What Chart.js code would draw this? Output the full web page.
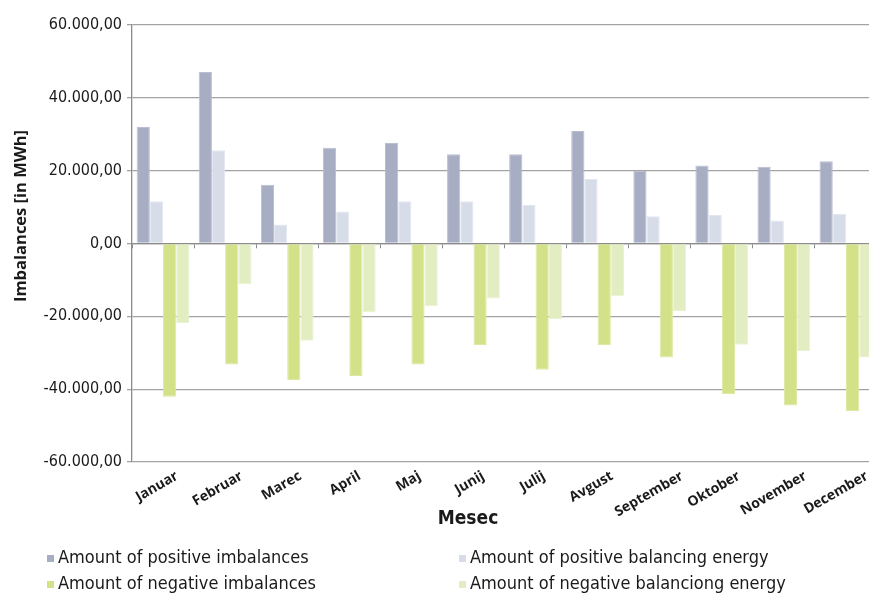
<!DOCTYPE html>
<html>
<head>
<meta charset="utf-8">
<script src="https://cdn.jsdelivr.net/npm/chart.js@4/dist/chart.umd.min.js"></script>
<style>
  html, body { margin: 0; padding: 0; background: #fff; overflow: hidden; }
  #wrap { position: relative; width: 880px; height: 593px; }
  #legend { position: absolute; left: 47px; top: 544px; width: 800px;
            font-family: "Liberation Sans Narrow", "DejaVu Sans Condensed", sans-serif;
            font-size: 18px; color: #1a1a1a; }
  .item { position: absolute; white-space: nowrap; line-height: 26px; }
  .sw { display: inline-block; width: 7px; height: 7px; margin-right: 4px; vertical-align: 1px; }
</style>
</head>
<body>
<div id="wrap">
  <canvas id="c"></canvas>
  <div id="legend"></div>
</div>
<script>
const months = ['Januar', 'Februar', 'Marec', 'April', 'Maj', 'Junij', 'Julij', 'Avgust',
                'September', 'Oktober', 'November', 'December'];

// MWh per month
const positiveImbalances = [32000, 47100, 16100, 26300, 27600, 24500, 24500, 30900, 20000, 21400, 21100, 22600];
const positiveBalancing  = [11600, 25600, 5200, 8800, 11600, 11600, 10600, 17700, 7500, 7800, 6300, 8100];
const negativeImbalances = [-42100, -33200, -37500, -36400, -33200, -27900, -34700, -27900, -31300, -41400, -44500, -46000];
const negativeBalancing  = [-21800, -11200, -26700, -18900, -17200, -15100, -20700, -14500, -18600, -27800, -29500, -31300];

const seriesNames = ['Amount of positive imbalances', 'Amount of positive balancing energy',
                     'Amount of negative imbalances', 'Amount of negative balanciong energy'];
const seriesColors = ['#a7adc3', '#d7dce9', '#d3e289', '#e2edc1'];
const seriesEdges  = ['#b9bfd2', '#e3e7f0', '#dde9a3', '#ebf2d2'];

const yTicks = [-60000, -40000, -20000, 0, 20000, 40000, 60000];
const yTitle = 'Imbalances [in MWh]';
const xTitle = 'Mesec';

function fmt(v) {
  const neg = v < 0;
  const s = Math.abs(Math.round(v)).toString().replace(/\B(?=(\d{3})+(?!\d))/g, '.');
  return (neg ? '-' : '') + s + ',00';
}

const values = [positiveImbalances, positiveBalancing, negativeImbalances, negativeBalancing];
const datasets = values.map((d, i) => ({
  label: seriesNames[i],
  data: d,
  backgroundColor: seriesColors[i],
  borderColor: seriesEdges[i],
  borderWidth: 1,
  barPercentage: 1.0,
  categoryPercentage: 0.85,
  xAxisID: 'x'
}));

const narrow = '"Liberation Sans Narrow", "DejaVu Sans Condensed", sans-serif';
const monthFont = 'bold 14px "Open Sans", sans-serif';

// axis titles and slanted month labels (each label is anchored a little to the
// right of its category centre, further for longer names)
const axisText = {
  id: 'axisText',
  afterDraw(chart) {
    const { ctx, chartArea } = chart;
    const xs = chart.scales.x;
    ctx.save();
    ctx.fillStyle = '#1a1a1a';
    ctx.font = monthFont;
    ctx.textAlign = 'right';
    ctx.textBaseline = 'middle';
    months.forEach((m, i) => {
      const w = ctx.measureText(m).width;
      const x = xs.getPixelForTick(i) + 1 + 0.28 * w;
      ctx.save();
      ctx.translate(x, chartArea.bottom + 13);
      ctx.rotate(-Math.PI / 6);
      ctx.fillText(m, 0, 0);
      ctx.restore();
    });
    ctx.restore();

    ctx.save();
    ctx.fillStyle = '#1a1a1a';
    ctx.textAlign = 'center';
    ctx.textBaseline = 'middle';
    ctx.font = 'bold 16.5px "Open Sans", sans-serif';
    ctx.translate(chartArea.left - 111, chartArea.top + 191);
    ctx.rotate(-Math.PI / 2);
    ctx.fillText(yTitle, 0, 0);
    ctx.restore();

    ctx.save();
    ctx.fillStyle = '#1a1a1a';
    ctx.textAlign = 'center';
    ctx.textBaseline = 'middle';
    ctx.font = 'bold 19px ' + narrow;
    ctx.fillText(xTitle, chartArea.left + 336, chartArea.bottom + 57);
    ctx.restore();
  }
};

const chart = new Chart(document.getElementById('c'), {
  type: 'bar',
  data: { labels: months, datasets },
  options: {
    responsive: true,
    maintainAspectRatio: false,
    animation: false,
    layout: { padding: { top: 25, right: 3, bottom: 61, left: 0 } },
    plugins: { legend: { display: false }, tooltip: { enabled: false } },
    scales: {
      x: {
        type: 'category',
        position: 'bottom',
        grid: { display: false },
        border: { display: false },
        ticks: { display: false, autoSkip: false },
        afterFit(scale) { scale.height = 70; }
      },
      x2: {
        type: 'category',
        position: { y: 0 },
        offset: true,
        grid: { drawOnChartArea: false, drawTicks: true, tickLength: 4, offset: true, color: '#8c8c8c' },
        border: { display: true, color: '#8c8c8c', width: 1.3 },
        ticks: { display: false }
      },
      y: {
        min: -60000, max: 60000,
        afterBuildTicks(scale) { scale.ticks = yTicks.map(v => ({ value: v })); },
        grid: { color: '#a3a3a3', lineWidth: 1.3, tickLength: 5 },
        border: { display: true, color: '#8c8c8c', width: 1.3 },
        ticks: {
          padding: 5,
          color: '#1a1a1a',
          font: { family: narrow, size: 16 },
          callback: v => fmt(v)
        },
        afterFit(scale) { scale.width = 132; }
      }
    }
  },
  plugins: [axisText]
});

// two-column legend built from the series definitions
const legend = document.getElementById('legend');
seriesNames.forEach((name, i) => {
  const el = document.createElement('div');
  el.className = 'item';
  el.style.left = (i % 2 === 0 ? 0 : 412) + 'px';
  el.style.top = (Math.floor(i / 2) * 26) + 'px';
  el.innerHTML = '<span class="sw" style="background:' + seriesColors[i] + '"></span>';
  el.appendChild(document.createTextNode(name));
  legend.appendChild(el);
});
</script>
</body>
</html>
